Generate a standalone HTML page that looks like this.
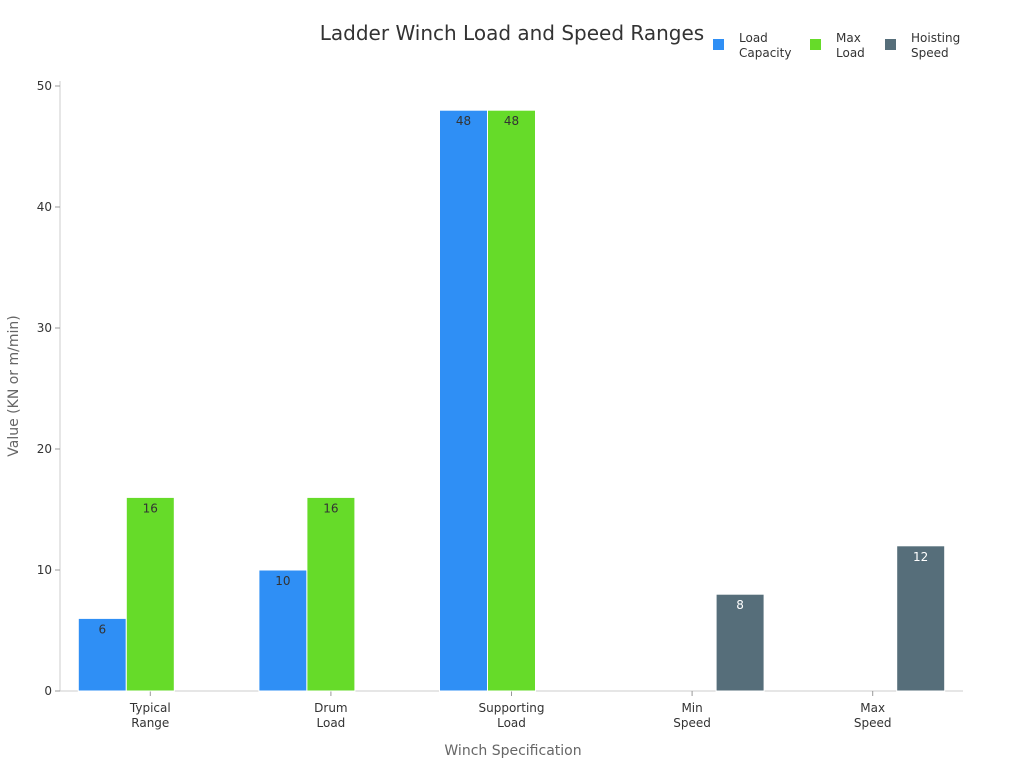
<!DOCTYPE html>
<html><head><meta charset="utf-8"><style>
body{margin:0;background:#fff;font-family:"DejaVu Sans","Liberation Sans",sans-serif;}
svg text{font-family:"DejaVu Sans","Liberation Sans",sans-serif;}
</style></head><body>
<svg id="chart" width="1024" height="768">
<text x="512" y="40" text-anchor="middle" font-size="20" fill="#333">Ladder Winch Load and Speed Ranges</text>
<g id="legend"></g>
<g id="axes"></g>
<g id="bars"></g>
<text x="513" y="755" text-anchor="middle" font-size="14" fill="#666">Winch Specification</text>
<text transform="translate(18,386) rotate(-90)" text-anchor="middle" font-size="14" fill="#666">Value (KN or m/min)</text>
</svg>
<script>
const categories=[["Typical","Range"],["Drum","Load"],["Supporting","Load"],["Min","Speed"],["Max","Speed"]];
const loadCapacity=[6,10,48,null,null];
const maxLoad=[16,16,48,null,null];
const hoistingSpeed=[null,null,null,8,12];
const yTicks=[0,10,20,30,40,50];
const seriesNames=[["Load","Capacity"],["Max","Load"],["Hoisting","Speed"]];
const colors=["#2f8ff5","#66db29","#566e7a"];
const NS="http://www.w3.org/2000/svg";
const x0=60,x1=963,yBase=691,yTop=86,yMax=50;
const y=v=>yBase-(v/yMax)*(yBase-yTop);
const step=(x1-x0)/categories.length;
const cx=i=>x0+step*(i+0.5);
const bw=48;
function mk(tag,attrs,parent){const e=document.createElementNS(NS,tag);for(const k in attrs)e.setAttribute(k,attrs[k]);parent.appendChild(e);return e;}
const axes=document.getElementById('axes'),bars=document.getElementById('bars'),legend=document.getElementById('legend');
let ax=mk('line',{x1:x0,y1:81,x2:x0,y2:yBase,stroke:'#ccc'},axes);

ax=mk('line',{x1:x0,y1:yBase,x2:x1,y2:yBase,stroke:'#ccc'},axes);

yTicks.forEach(t=>{
 mk('line',{x1:x0-5,y1:y(t),x2:x0,y2:y(t),stroke:'#999'},axes);
 const tx=mk('text',{x:x0-8,y:y(t)+4,'text-anchor':'end','font-size':12,fill:'#333'},axes);
 tx.textContent=t;
 
});
categories.forEach((c,i)=>{
 mk('line',{x1:cx(i),y1:yBase,x2:cx(i),y2:yBase+5,stroke:'#999'},axes);
 c.forEach((s,j)=>{const tx=mk('text',{x:cx(i),y:yBase+21+j*15,'text-anchor':'middle','font-size':12,fill:'#333'},axes);tx.textContent=s;
 });
});
[loadCapacity,maxLoad,hoistingSpeed].forEach((ser,s)=>{
 ser.forEach((v,i)=>{
  if(v==null)return;
  const bx=cx(i)-72+s*bw;
  const r=mk('rect',{x:bx,y:y(v),width:bw,height:yBase-y(v),fill:colors[s],stroke:'#fff','stroke-width':1},bars);
  
  
  const t=mk('text',{x:bx+bw/2,y:y(v)+15,'text-anchor':'middle','font-size':12,fill:s==2?'#fff':'#333'},bars);
  t.textContent=v;
  
  
 });
});
const lx=[713,810,885];
seriesNames.forEach((n,s)=>{
 const g=mk('g',{},legend);
 
 
 mk('rect',{x:lx[s],y:39,width:11,height:11,fill:colors[s]},g);
 n.forEach((w,j)=>{const t=mk('text',{x:lx[s]+26,y:42+j*15,'font-size':12,fill:'#333'},g);t.textContent=w;});
});
</script>
</body></html>
